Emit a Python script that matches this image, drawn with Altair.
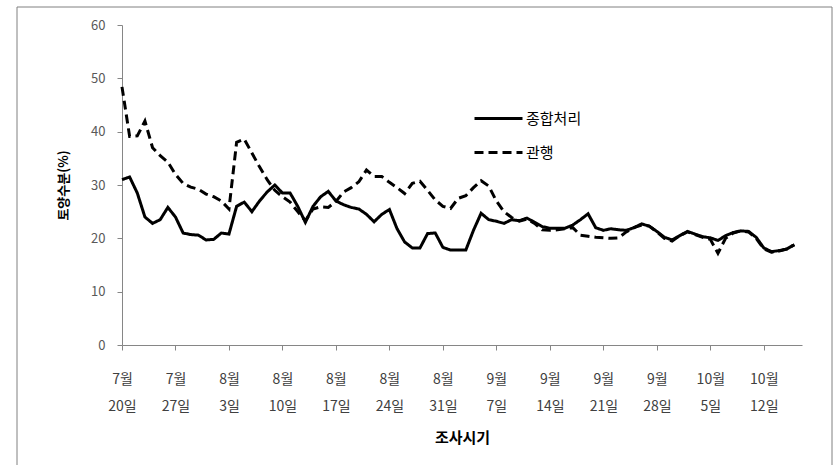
import altair as alt
import pandas as pd

# Tick labels (every 7 days starting at 7월 20일)
tick_months = ["7월", "7월", "8월", "8월", "8월", "8월", "8월", "9월", "9월", "9월", "9월", "10월", "10월"]
tick_days = ["20일", "27일", "3일", "10일", "17일", "24일", "31일", "7일", "14일", "21일", "28일", "5일", "12일"]

series_names = ["종합처리", "관행"]

# Daily soil moisture (%) from 7월 20일 (day 0) to 10월 16일 (day 88)
combined = [
    31.0, 31.5, 28.5, 24.0, 22.8, 23.5, 25.8, 24.0, 21.0, 20.7,
    20.6, 19.7, 19.8, 21.0, 20.8, 26.0, 26.8, 25.0, 27.0, 28.7,
    30.0, 28.5, 28.5, 26.0, 23.0, 26.0, 27.8, 28.8, 27.0, 26.3,
    25.8, 25.5, 24.5, 23.1, 24.5, 25.4, 21.8, 19.3, 18.2, 18.2,
    20.9, 21.0, 18.3, 17.8, 17.8, 17.8, 21.5, 24.7, 23.5, 23.2,
    22.8, 23.5, 23.3, 23.8, 23.0, 22.2, 21.9, 21.9, 21.9, 22.5,
    23.5, 24.6, 22.0, 21.5, 21.8, 21.6, 21.5, 22.0, 22.7, 22.3,
    21.3, 20.2, 19.7, 20.5, 21.3, 20.8, 20.3, 20.1, 19.6, 20.5,
    21.1, 21.4, 21.3, 20.2, 18.2, 17.5, 17.7, 18.0, 18.8,
]
conventional = [
    48.4, 39.1, 39.2, 42.0, 37.0, 35.5, 34.3, 32.0, 30.3, 29.6,
    29.2, 28.3, 27.8, 27.0, 25.5, 38.0, 38.6, 36.0, 33.4, 31.0,
    29.0, 27.8, 26.8, 25.0, 23.3, 25.5, 25.9, 25.8, 26.9, 28.7,
    29.5, 30.6, 32.8, 31.6, 31.6, 30.5, 29.5, 28.4, 30.3, 30.7,
    29.0, 27.2, 26.0, 25.6, 27.5, 28.0, 29.5, 30.8, 29.8, 27.0,
    25.0, 23.9, 23.2, 23.6, 22.8, 21.6, 21.5, 21.6, 21.8, 22.0,
    20.6, 20.4, 20.2, 20.1, 20.0, 20.1, 21.2, 22.0, 22.5, 22.3,
    21.2, 20.0, 19.5, 20.5, 21.2, 20.7, 20.2, 19.8, 17.2, 20.0,
    21.0, 21.4, 21.2, 20.0, 18.0, 17.4, 17.6, 18.0, 18.8,
]

rows = []
for name, vals in zip(series_names, [combined, conventional]):
    for i, v in enumerate(vals):
        rows.append({"day": i, "value": v, "series": name})
df = pd.DataFrame(rows)

tick_values = [7 * i for i in range(len(tick_months))]
label_arr = ",".join(f"['{m}','{d}']" for m, d in zip(tick_months, tick_days))
label_expr = f"[{label_arr}][round(datum.value/7)]"

FONT = "Noto Sans CJK KR"

lines = alt.Chart(df).mark_line(color="black", strokeWidth=3).encode(
    x=alt.X(
        "day:Q",
        scale=alt.Scale(domain=[0, 89], nice=False, zero=False),
        axis=alt.Axis(
            values=tick_values,
            labelExpr=label_expr,
            labelFlush=False,
            labelOverlap=False,
            title="조사시기",
            titleFontSize=15,
            titleFontWeight="bold",
            titlePadding=17,
            labelFontSize=14,
            labelLineHeight=27,
            labelPadding=22,
            labelColor="#404040",
            tickSize=5,
            tickColor="#868686",
            domainColor="#868686",
            grid=False,
        ),
    ),
    y=alt.Y(
        "value:Q",
        scale=alt.Scale(domain=[0, 60], nice=False),
        axis=alt.Axis(
            values=[0, 10, 20, 30, 40, 50, 60],
            title="토양수분(%)",
            titleFontSize=13,
            titleFontWeight="bold",
            titlePadding=20,
            labelFontSize=13,
            labelPadding=12,
            labelColor="#595959",
            tickSize=5,
            tickColor="#868686",
            domainColor="#868686",
            grid=False,
        ),
    ),
    strokeDash=alt.StrokeDash(
        "series:N",
        scale=alt.Scale(domain=series_names, range=[[1, 0], [9, 5]]),
        legend=alt.Legend(
            title=None,
            orient="none",
            legendX=351,
            legendY=68,
            symbolType="stroke",
            symbolSize=2304,
            symbolStrokeWidth=3,
            symbolStrokeColor="black",
            labelFontSize=15,
            labelOffset=2,
            rowPadding=-13,
        ),
    ),
    detail="series:N",
)

frame = alt.Chart(pd.DataFrame({"a": [0]})).mark_rect(
    fill=None, stroke="#808080", strokeWidth=1
).encode(
    x=alt.value(-105), x2=alt.value(710), y=alt.value(-18), y2=alt.value(445)
)

chart = alt.layer(frame, lines).properties(
    width=680,
    height=320,
    autosize=alt.AutoSizeParams(type="none"),
    padding={"left": 122, "top": 25, "right": 32, "bottom": 120},
).configure(
    font=FONT,
).configure_view(
    stroke=None
).configure_axis(
    labelFont=FONT, titleFont=FONT
).configure_legend(
    labelFont=FONT
)

chart.save("out.html", embed_options={"renderer": "svg", "actions": False})
